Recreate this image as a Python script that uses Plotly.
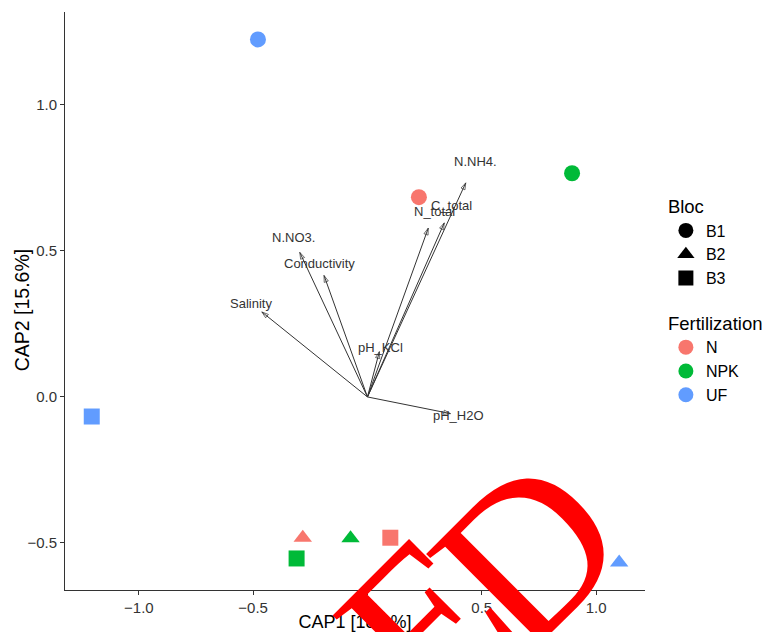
import plotly.graph_objects as go

# Site scores on the first two constrained axes
fert = ["UF", "NPK", "N", "UF", "N", "NPK", "N", "NPK", "UF"]
bloc = ["B1", "B1", "B1", "B3", "B2", "B2", "B3", "B3", "B2"]
cap1 = [-0.479, 0.895, 0.225, -1.206, -0.283, -0.074, 0.100, -0.310, 1.101]
cap2 = [1.224, 0.766, 0.684, -0.067, -0.482, -0.484, -0.482, -0.553, -0.567]

# Environmental fitted vectors (arrow tips)
env_names = ["N.NH4.", "C_total", "N_total", "N.NO3.", "Conductivity",
             "Salinity", "pH_KCl", "pH_H2O"]
env_cap1 = [0.430, 0.336, 0.266, -0.296, -0.190, -0.462, 0.052, 0.363]
env_cap2 = [0.733, 0.596, 0.578, 0.495, 0.416, 0.291, 0.155, -0.057]

fert_levels = ["N", "NPK", "UF"]
bloc_levels = ["B1", "B2", "B3"]
fert_colors = {"N": "#F8766D", "NPK": "#00BA38", "UF": "#619CFF"}
bloc_symbols = {"B1": "circle", "B2": "triangle-up", "B3": "square"}

FONT = "Liberation Sans, Arial, sans-serif"
SERIF = "Liberation Serif, Times New Roman, serif"
INK = "#333333"

fig = go.Figure()

# sample points
for f in fert_levels:
    idx = [i for i, v in enumerate(fert) if v == f]
    fig.add_trace(go.Scatter(
        x=[cap1[i] for i in idx], y=[cap2[i] for i in idx],
        mode="markers", showlegend=False, hoverinfo="skip",
        marker=dict(color=fert_colors[f], size=16,
                    symbol=[bloc_symbols[bloc[i]] for i in idx],
                    line=dict(width=0)),
    ))

# environmental arrows
for name, ex, ey in zip(env_names, env_cap1, env_cap2):
    fig.add_trace(go.Scatter(
        x=[0, ex], y=[0, ey], mode="lines+markers", showlegend=False,
        hoverinfo="skip",
        line=dict(color=INK, width=1),
        marker=dict(symbol="arrow-open", size=[0, 7], angleref="previous",
                    color=INK, line=dict(color=INK, width=1)),
    ))
    fig.add_annotation(x=ex * 1.1, y=ey * 1.1, text=name, showarrow=False,
                       font=dict(family=FONT, size=13, color=INK),
                       xanchor="center", yanchor="middle")

# legend entries
for b in bloc_levels:
    fig.add_trace(go.Scatter(
        x=[None], y=[None], mode="markers", name=b, legend="legend",
        marker=dict(color="black", size=15, symbol=bloc_symbols[b]),
    ))
for f in fert_levels:
    fig.add_trace(go.Scatter(
        x=[None], y=[None], mode="markers", name=f, legend="legend2",
        marker=dict(color=fert_colors[f], size=15, symbol="circle"),
    ))

# y-axis title
fig.add_annotation(xref="paper", yref="paper", x=-0.0741, y=0.484,
                   text="CAP2 [15.6%]", showarrow=False, textangle=-90,
                   font=dict(family=FONT, size=19.5, color="black"),
                   xanchor="center", yanchor="middle")

# stamp overlay (letters placed individually)
for letter, sx, sy in [("E", 0.6207, -0.0554), ("D", 0.7966, 0.0657)]:
    fig.add_annotation(xref="paper", yref="paper", x=sx, y=sy,
                       text=letter, showarrow=False, textangle=-45,
                       font=dict(family=SERIF, size=220, color="#FF0000"),
                       xanchor="center", yanchor="middle")

axis_common = dict(
    showline=True, linecolor=INK, linewidth=1, mirror=False,
    showgrid=False, zeroline=False, automargin=False,
    ticks="outside", ticklen=4, tickcolor=INK, tickwidth=1,
    tickfont=dict(family=FONT, size=15, color=INK),
    tickformat=".1f",
)

fig.update_layout(
    width=766, height=632,
    margin=dict(l=65, r=121, t=12, b=42, autoexpand=False),
    plot_bgcolor="white", paper_bgcolor="white",
    font=dict(family=FONT, color="black"),
    xaxis=dict(range=[-1.323, 1.214], tickvals=[-1.0, -0.5, 0.0, 0.5, 1.0],
               title=dict(text="CAP1 [18.1%]", standoff=4,
                          font=dict(family=FONT, size=18, color="black")),
               **axis_common),
    yaxis=dict(range=[-0.661, 1.318], tickvals=[-0.5, 0.0, 0.5, 1.0],
               **axis_common),
    legend=dict(x=1.036, y=0.693, xanchor="left", yanchor="top",
                title=dict(text="Bloc", font=dict(family=FONT, size=18.5)),
                font=dict(family=FONT, size=16, color="black"),
                itemwidth=30, bgcolor="rgba(0,0,0,0)"),
    legend2=dict(x=1.036, y=0.491, xanchor="left", yanchor="top",
                 title=dict(text="Fertilization", font=dict(family=FONT, size=18.5)),
                 font=dict(family=FONT, size=16, color="black"),
                 itemwidth=30, bgcolor="rgba(0,0,0,0)"),
)

fig.write_html("out.html")
